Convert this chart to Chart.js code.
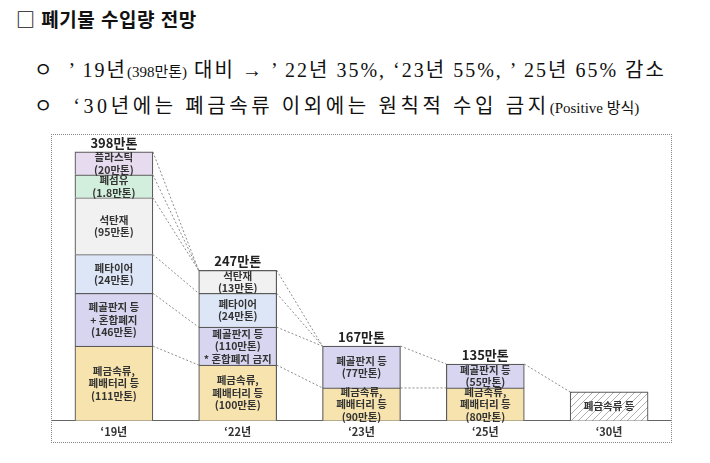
<!DOCTYPE html>
<html lang="ko">
<head>
<meta charset="utf-8">
<script src="https://cdn.jsdelivr.net/npm/chart.js@4.4.1/dist/chart.umd.min.js"></script>
<style>
  body { margin: 0; width: 710px; height: 463px; background: #fff; position: relative; overflow: hidden; }
  .txt { position: absolute; white-space: pre; color: #111; }
  .title { left: 16px; top: 5px; font: bold 19px "Noto Sans CJK KR", sans-serif; letter-spacing: 0.5px; }
  .line { left: 34px; font-family: "Liberation Serif", "Noto Sans CJK KR", serif; font-size: 20px; letter-spacing: 2px; }
  .line small { font-size: 15px; letter-spacing: 0; }
  .frame { position: absolute; left: 51px; top: 134px; width: 621px; height: 309px; box-sizing: border-box; border: 1px dotted #888; }
  canvas { display: block; }
</style>
</head>
<body>
<div class="txt title">□ 폐기물 수입량 전망</div>
<div class="txt line" style="top:54px">ㅇ  ’ 19년<small>(398만톤)</small> 대비 → ’ 22년 35%, ‘23년 55%, ’ 25년 65% 감소</div>
<div class="txt line" style="top:90px; letter-spacing:3.6px">ㅇ  ‘30년에는 폐금속류 이외에는 원칙적 수입 금지<small>(Positive 방식)</small></div>
<div class="frame"><canvas id="chart" width="619" height="307"></canvas></div>
<script>
// categories
const years = ['‘19년', '‘22년', '‘23년', '‘25년', '‘30년'];
const totalLabels = ['398만톤', '247만톤', '167만톤', '135만톤', ''];

// block heights as drawn in the (schematic) diagram, bottom to top
const metalBlock   = [75, 56, 33, 33, null];
const paperBlock   = [53, 38, 42, 24, null];
const tireBlock    = [39, 34, null, null, null];
const coalBlock    = [57, 23, null, null, null];
const fiberBlock   = [23, null, null, null, null];
const plasticBlock = [23, null, null, null, null];
const futureBlock  = [null, null, null, null, 29];

// tonnage (만톤) shown inside the blocks
const metalTons   = [111, 100, 90, 80];
const paperTons   = [146, 110, 77, 55];
const tireTons    = [24, 24];
const coalTons    = [95, 13];
const fiberTons   = [1.8];
const plasticTons = [20];

const metalText = metalTons.map(v => `폐금속류,\n폐배터리 등\n(${v}만톤)`);
const paperText = paperTons.map((v, i) =>
  i === 0 ? `폐골판지 등\n+ 혼합폐지\n(${v}만톤)` :
  i === 1 ? `폐골판지 등\n(${v}만톤)\n* 혼합폐지 금지` : `폐골판지 등\n(${v}만톤)`);
const tireText = tireTons.map(v => `폐타이어\n(${v}만톤)`);
const coalText = coalTons.map(v => `석탄재\n(${v}만톤)`);
const fiberText = fiberTons.map(v => `폐섬유\n(${v}만톤)`);
const plasticText = plasticTons.map(v => `플라스틱\n(${v}만톤)`);
const futureText = [null, null, null, null, '폐금속류 등'];

function makeHatch() {
  const c = document.createElement('canvas');
  c.width = 7; c.height = 7;
  const g = c.getContext('2d');
  g.fillStyle = '#ffffff';
  g.fillRect(0, 0, 7, 7);
  g.strokeStyle = '#9a9a9a';
  g.lineWidth = 0.8;
  g.beginPath();
  g.moveTo(0, 7); g.lineTo(7, 0);
  g.moveTo(-1, 1); g.lineTo(1, -1);
  g.moveTo(6, 8); g.lineTo(8, 6);
  g.stroke();
  return g.createPattern(c, 'repeat');
}

const series = [
  { key: 'metal',   data: metalBlock,   text: metalText,   color: '#f6e3ad' },
  { key: 'paper',   data: paperBlock,   text: paperText,   color: '#d7d5ef' },
  { key: 'tire',    data: tireBlock,    text: tireText,    color: '#dde6f6' },
  { key: 'coal',    data: coalBlock,    text: coalText,    color: '#f1f1f1' },
  { key: 'fiber',   data: fiberBlock,   text: fiberText,   color: '#d2eedc' },
  { key: 'plastic', data: plasticBlock, text: plasticText, color: '#e7dcef' },
  { key: 'future',  data: futureBlock,  text: futureText,  color: makeHatch() },
];

// dotted links: [from series, from bar, to series, to bar]
const links = [
  ['plastic', 0, 'coal', 1], ['fiber', 0, 'coal', 1], ['coal', 0, 'coal', 1],
  ['tire', 0, 'tire', 1], ['paper', 0, 'paper', 1], ['metal', 0, 'metal', 1],
  ['coal', 1, 'paper', 2], ['tire', 1, 'paper', 2], ['paper', 1, 'paper', 2], ['metal', 1, 'metal', 2],
  ['paper', 2, 'paper', 3], ['metal', 2, 'metal', 3],
  ['paper', 3, 'future', 4],
];

const keyIndex = {};
series.forEach((s, i) => { keyIndex[s.key] = i; });

const FONT = '"Noto Sans CJK KR", sans-serif';

const diagramPlugin = {
  id: 'diagram',
  beforeDatasetsDraw(chart) {
    const ctx = chart.ctx;
    ctx.save();
    ctx.strokeStyle = '#8c8c8c';
    ctx.lineWidth = 1;
    ctx.setLineDash([2, 2]);
    links.forEach(([a, i, b, j]) => {
      const ea = chart.getDatasetMeta(keyIndex[a]).data[i];
      const eb = chart.getDatasetMeta(keyIndex[b]).data[j];
      ctx.beginPath();
      ctx.moveTo(ea.x + ea.width / 2, ea.y);
      ctx.lineTo(eb.x - eb.width / 2, eb.y);
      ctx.stroke();
    });
    ctx.restore();
  },
  afterDatasetsDraw(chart) {
    const ctx = chart.ctx;
    ctx.save();
    ctx.textAlign = 'center';
    ctx.textBaseline = 'middle';
    ctx.fillStyle = '#333';
    ctx.font = 'bold 10.5px ' + FONT;
    const tops = [];
    series.forEach((s, d) => {
      chart.getDatasetMeta(d).data.forEach((el, i) => {
        if (s.data[i] == null) return;
        tops[i] = tops[i] == null ? el.y : Math.min(tops[i], el.y);
        const txt = s.text[i];
        if (!txt) return;
        const lines = txt.split('\n');
        const lh = 12.5;
        const cy = (el.y + el.base) / 2 - (lines.length - 1) * lh / 2;
        lines.forEach((ln, k) => ctx.fillText(ln, el.x, cy + k * lh));
      });
    });
    ctx.fillStyle = '#222';
    ctx.font = 'bold 13px ' + FONT;
    const xs = chart.getDatasetMeta(0).data.map(e => e.x);
    totalLabels.forEach((t, i) => {
      if (t) ctx.fillText(t, xs[i], tops[i] - 9);
    });
    ctx.restore();
  }
};

new Chart(document.getElementById('chart'), {
  type: 'bar',
  data: {
    labels: years,
    datasets: series.map(s => ({
      label: s.key,
      data: s.data,
      backgroundColor: s.color,
      borderColor: '#5a5a5a',
      borderWidth: 1.2,
      borderSkipped: 'start',
      barThickness: 78,
      stack: 'all',
    }))
  },
  options: {
    responsive: false,
    animation: false,
    layout: { padding: { left: 0, right: 0, top: 0, bottom: 0 } },
    plugins: {
      legend: { display: false },
      tooltip: { enabled: false }
    },
    scales: {
      x: {
        stacked: true,
        grid: { display: false, drawTicks: false },
        border: { color: '#666', width: 1 },
        ticks: { color: '#333', padding: 4, font: { family: FONT, size: 11, weight: 'bold' } }
      },
      y: {
        stacked: true,
        display: false,
        min: 0,
        max: 287
      }
    }
  },
  plugins: [diagramPlugin]
});
</script>
</body>
</html>
